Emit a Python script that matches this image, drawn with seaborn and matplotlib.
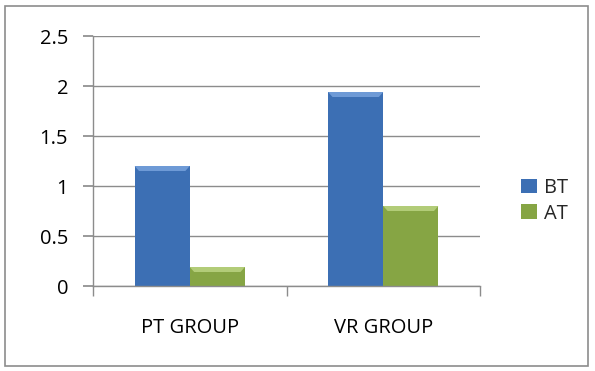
import pandas as pd
import matplotlib
matplotlib.use("Agg")
import matplotlib.pyplot as plt
import seaborn as sns
from matplotlib.patches import Rectangle, Polygon

groups = ["PT GROUP", "VR GROUP"]
series = ["BT", "AT"]
bt_values = [1.2, 1.94]
at_values = [0.19, 0.8]
y_ticks = [0, 0.5, 1, 1.5, 2, 2.5]

df = pd.DataFrame({
    "group": groups * 2,
    "series": ["BT"] * len(groups) + ["AT"] * len(groups),
    "value": bt_values + at_values,
})

sns.set_theme(style="white")
plt.rcParams["font.family"] = ["Open Sans", "DejaVu Sans"]

fig = plt.figure(figsize=(5.95, 3.71), dpi=100)
ax = fig.add_axes([93 / 595, 1 - 286 / 371, 387 / 595, 250 / 371])

palette = {"BT": "#3C6FB4", "AT": "#86A544"}
light = {"#3C6FB4": "#6E9AD6", "#86A544": "#B2CC78"}
sns.barplot(data=df, x="group", y="value", hue="series", hue_order=series,
            palette=palette, width=0.57, gap=0, saturation=1, ax=ax,
            edgecolor="none", legend=True)

# light bevel at the top of each bar
for bar in list(ax.patches):
    h = bar.get_height()
    if h <= 0:
        continue
    x0 = bar.get_x()
    w = bar.get_width()
    c = matplotlib.colors.to_hex(bar.get_facecolor()).upper()
    bh = 0.05
    inset = w * 0.08
    poly = Polygon([(x0, h), (x0 + w, h), (x0 + w - inset, h - bh),
                    (x0 + inset, h - bh)], closed=True,
                   facecolor=light.get(c, "white"), edgecolor="none", zorder=3)
    ax.add_patch(poly)

ax.set_ylim(0, 2.5)
ax.set_xlim(-0.5, 1.5)
ax.set_yticks(y_ticks)
ax.set_yticklabels(["0", "0.5", "1", "1.5", "2", "2.5"])
ax.yaxis.grid(True, color="#8c8c8c", linewidth=1)
ax.set_axisbelow(True)
ax.set_xlabel("")
ax.set_ylabel("")

for side in ["top", "right"]:
    ax.spines[side].set_visible(False)
for side in ["left", "bottom"]:
    ax.spines[side].set_color("#8c8c8c")
    ax.spines[side].set_linewidth(1)

ax.tick_params(axis="y", left=True, length=7, color="#8c8c8c", labelsize=14.5,
               pad=11, labelcolor="black")
ax.tick_params(axis="x", bottom=False, labelsize=14.5, pad=17, labelcolor="black")
ax.set_xticks([0, 1], minor=False)
ax.set_xticks([-0.5, 0.5, 1.5], minor=True)
ax.tick_params(axis="x", which="minor", bottom=True, length=7, color="#8c8c8c")

leg = ax.legend(loc="center left", bbox_to_anchor=(1.105, 0.34), frameon=False,
                fontsize=14.5, handlelength=0.8, handleheight=0.7,
                handletextpad=0.35, labelspacing=0.25, borderpad=0,
                borderaxespad=0)

fig.patches.append(Rectangle((5 / 595, 5 / 371), 583 / 595, 360 / 371,
                             transform=fig.transFigure, fill=False,
                             edgecolor="#8c8c8c", linewidth=1.2))

fig.savefig("out.png", dpi=100)
